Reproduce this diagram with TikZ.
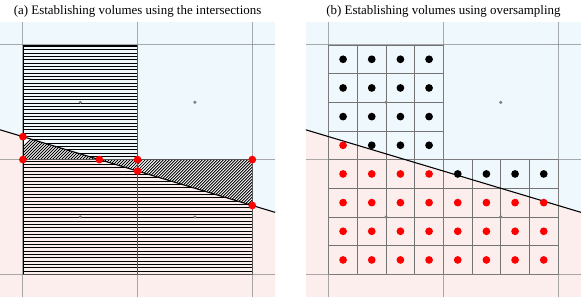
\documentclass[tikz,border=0pt]{standalone}
\usepackage{fontspec}
\setmainfont{Liberation Serif}
\definecolor{bgblue}{RGB}{238,248,253}
\definecolor{bgpink}{RGB}{253,238,238}
\begin{document}
\begin{tikzpicture}[x=86pt,y=86pt,
  gridline/.style={gray, line width=0.8pt, opacity=0.65},
  subline/.style={gray!90!black, line width=0.45pt},
  iface/.style={black, line width=0.8pt},
  cellbox/.style={black, line width=0.6pt},
  hatchh/.style={black, line width=0.55pt},
  hatchd/.style={black, line width=0.65pt},
  titlefont/.style={font=\fontsize{9.7}{11}\selectfont, inner sep=0pt}
]
\useasboundingbox (-0.2,-0.2) rectangle (4.867,2.392);

% backgrounds of both panels
\foreach \ox in {0,2.667}{
  \begin{scope}[xshift=\ox*86pt]
    \fill[bgblue] (-0.2,-0.2) rectangle (2.2,2.2);
    \fill[bgpink] (-0.2,-0.2) -- (2.2,-0.2) -- (2.2,0.54) -- (-0.2,1.26) -- cycle;
  \end{scope}
}

% ---------- panel (a) ----------
% horizontal hatching of the cells
\foreach \k in {1,...,34}{
  \draw[hatchh] (0,1+\k*0.0290) -- (1,1+\k*0.0290);
  \draw[hatchh] (0,\k*0.0290) -- (2,\k*0.0290);
}
% diagonal hatching between the cell face and the interface
\fill[white] (0,1.2) -- (0,1) -- (0.6667,1) -- cycle;
\fill[white] (0.6667,1) -- (2,1) -- (2,0.6) -- cycle;
\begin{scope}
  \clip (0,1.2) -- (0,1) -- (0.6667,1) -- cycle (0.6667,1) -- (2,1) -- (2,0.6) -- cycle;
  \foreach \k in {-50,...,58}
    \draw[hatchd] (\k*0.0262,-0.2) -- ++(1.6,1.6);
\end{scope}
\draw[cellbox] (0,1) rectangle (1,2);
\draw[cellbox] (0,0) rectangle (1,1);
\draw[cellbox] (1,0) rectangle (2,1);

% ---------- panel (b) ----------
\begin{scope}[xshift=2.667*86pt]
  \draw[subline] (0,1) grid[step=0.25] (1,2);
  \draw[subline] (0,0) grid[step=0.25] (2,1);
\end{scope}

% main grid, interface, centre dots
\foreach \ox in {0,2.667}{
  \begin{scope}[xshift=\ox*86pt]
    \foreach \g in {0,1,2}{
      \draw[gridline] (\g,-0.2) -- (\g,2.2);
      \draw[gridline] (-0.2,\g) -- (2.2,\g);
    }
    \draw[iface] (-0.2,1.26) -- (2.2,0.54);
    \foreach \cx/\cy in {0.5/0.5,1.5/0.5,0.5/1.5,1.5/1.5}
      \fill[gray] (\cx,\cy) circle (1.3pt);
  \end{scope}
}

% intersection points of panel (a)
\foreach \p in {(0,1.2),(0,1),(0.6667,1),(1,1),(1,0.9),(2,1),(2,0.6)}
  \fill[red] \p circle (2.9pt);

% sample points of panel (b)
\begin{scope}[xshift=2.667*86pt]
  \foreach \i in {0,...,7}{
    \foreach \j in {0,...,3}{
      \pgfmathsetmacro\px{0.125+0.25*\i}
      \pgfmathsetmacro\py{0.125+0.25*\j}
      \pgfmathtruncatemacro\isred{(\py < 1.2-0.3*\px) ? 1 : 0}
      \ifnum\isred=1 \fill[red] (\px,\py) circle (2.9pt);
      \else \fill[black] (\px,\py) circle (2.9pt); \fi
    }
  }
  \foreach \i in {0,...,3}{
    \foreach \j in {4,...,7}{
      \pgfmathsetmacro\px{0.125+0.25*\i}
      \pgfmathsetmacro\py{0.125+0.25*\j}
      \pgfmathtruncatemacro\isred{(\py < 1.2-0.3*\px) ? 1 : 0}
      \ifnum\isred=1 \fill[red] (\px,\py) circle (2.9pt);
      \else \fill[black] (\px,\py) circle (2.9pt); \fi
    }
  }
\end{scope}

% titles
\node[titlefont] (titlea) at (1,2.295) {(a) Establishing volumes using the intersections};
\node[titlefont] (titleb) at (3.667,2.295) {(b) Establishing volumes using oversampling};
\end{tikzpicture}
\end{document}
